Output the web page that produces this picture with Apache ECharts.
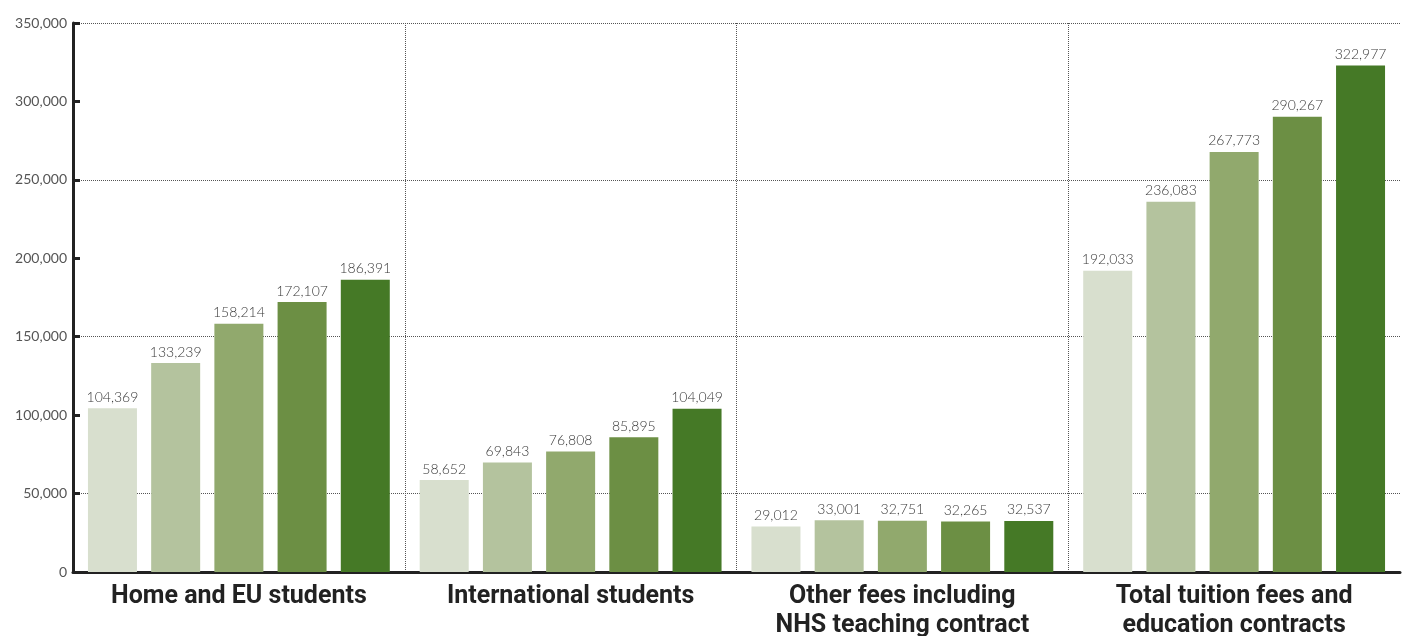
<!DOCTYPE html>
<html>
<head>
<meta charset="utf-8">
<script src="https://cdn.jsdelivr.net/npm/echarts@6/dist/echarts.min.js"></script>
<style>
  html, body { margin: 0; padding: 0; background: #ffffff; }
  #chart { width: 1408px; height: 636px; }
</style>
</head>
<body>
<div id="chart"></div>
<script>
// Income groups shown along the horizontal axis
const categories = [
  'Home and EU students',
  'International students',
  'Other fees including\nNHS teaching contract',
  'Total tuition fees and\neducation contracts'
];

// One series per year, oldest first (values in £000)
const year1 = [104369, 58652, 29012, 192033];
const year2 = [133239, 69843, 33001, 236083];
const year3 = [158214, 76808, 32751, 267773];
const year4 = [172107, 85895, 32265, 290267];
const year5 = [186391, 104049, 32537, 322977];

const seriesNames = ['Year 1', 'Year 2', 'Year 3', 'Year 4', 'Year 5'];
const seriesValues = [year1, year2, year3, year4, year5];
const palette = ['#d8dfce', '#b4c39e', '#91a96d', '#6c8f44', '#457926'];

const fmt = v => Number(v).toLocaleString('en-US');

const chart = echarts.init(document.getElementById('chart'), null, { renderer: 'canvas' });

chart.setOption({
  animation: false,
  backgroundColor: '#ffffff',
  grid: {
    left: 73, right: 8, top: 23, bottom: 64,
    containLabel: false,
    outerBoundsMode: 'none'
  },
  xAxis: {
    type: 'category',
    data: categories,
    boundaryGap: true,
    axisLine: { show: true, lineStyle: { color: '#222222', width: 3 } },
    axisTick: { show: false, interval: 0 },
    axisLabel: {
      interval: 0,
      hideOverlap: false,
      color: '#222222',
      fontFamily: 'Roboto',
      fontWeight: 'bold',
      fontSize: 25,
      lineHeight: 29,
      margin: 10
    },
    splitLine: {
      show: true,
      interval: 0,
      showMinLine: false,
      showMaxLine: false,
      lineStyle: { color: '#555555', type: 'dotted', width: 1 }
    }
  },
  yAxis: {
    type: 'value',
    min: 0,
    max: 350000,
    interval: 50000,
    axisLine: { show: true, lineStyle: { color: '#222222', width: 3 } },
    axisTick: { show: true, inside: true, length: 7, lineStyle: { color: '#222222', width: 3 } },
    axisLabel: {
      color: '#555555',
      fontFamily: 'Lato',
      fontSize: 14,
      margin: 6,
      formatter: v => fmt(v)
    },
    splitLine: {
      show: true,
      // every other gridline is drawn (50k, 150k, 250k, 350k)
      lineStyle: { color: ['rgba(0,0,0,0)', '#555555'], type: 'dotted', width: 1 }
    }
  },
  series: seriesNames.map((name, i) => ({
    name: name,
    type: 'bar',
    data: seriesValues[i],
    barWidth: 49,
    barGap: '29%',
    itemStyle: { color: palette[i] },
    label: {
      show: true,
      position: 'top',
      distance: 4,
      color: '#3a3a3a',
      fontFamily: 'Lato',
      fontWeight: 300,
      fontSize: 14,
      formatter: p => fmt(p.value)
    }
  }))
});
</script>
</body>
</html>
